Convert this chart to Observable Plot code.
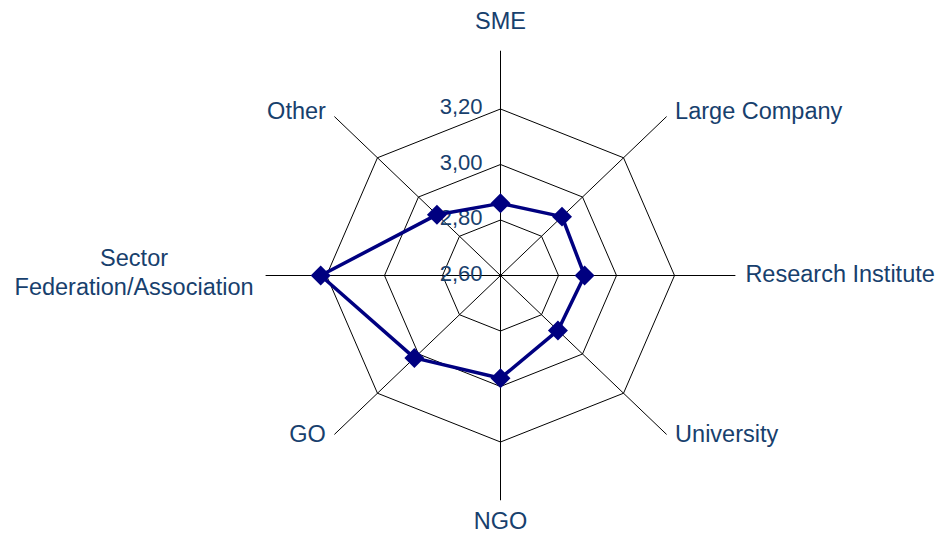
<!DOCTYPE html>
<html>
<head>
<meta charset="utf-8">
<script src="https://cdn.jsdelivr.net/npm/d3@7"></script>
<script src="https://cdn.jsdelivr.net/npm/@observablehq/plot@0.6"></script>
<style>
  html, body { margin: 0; padding: 0; background: #fff; }
  #chart svg { display: block; }
</style>
</head>
<body>
<div id="chart"></div>
<script>
// ---- data ----
const categories = ["SME", "Large Company", "Research Institute", "University", "NGO", "GO", "Sector\nFederation/Association", "Other"];
const values = [2.86, 2.90, 2.89, 2.88, 2.97, 3.02, 3.22, 2.91];
const ringValues = [2.8, 3.0, 3.2];
const tickValues = [2.6, 2.8, 3.0, 3.2];
const tickLabels = ["2,60", "2,80", "3,00", "3,20"];
const axisMin = 2.6;
const axisMax = 3.41;

// ---- layout ----
const W = 938, H = 533;
const cx = 500, cy = 275;           // centre in pixels
const pxPerUnitX = 290, pxPerUnitY = 277.5;
const textColor = "#17406D";
const font = "Liberation Sans, Arial, sans-serif";
const catSize = 23.5;

const n = categories.length;
const angle = i => (i / n) * 2 * Math.PI;
const polar = (i, v) => ({x: (v - axisMin) * Math.sin(angle(i)), y: (v - axisMin) * Math.cos(angle(i))});

// rings
const rings = ringValues.flatMap(v => d3.range(n + 1).map(i => ({ring: v, ...polar(i % n, v)})));
// spokes
const spokes = categories.map((c, i) => ({x1: 0, y1: 0, x2: polar(i, axisMax).x, y2: polar(i, axisMax).y}));
// data series
const series = d3.range(n + 1).map(i => ({cat: categories[i % n], value: values[i % n], ...polar(i % n, values[i % n])}));
const pts = series.slice(0, n);
// tick labels
const ticks = tickValues.map((v, k) => ({x: 0, y: v - axisMin, label: tickLabels[k]}));

// measure text width
const ctx = document.createElement("canvas").getContext("2d");
ctx.font = `${catSize}px ${font}`;
const widthOf = s => Math.max(...s.split("\n").map(l => ctx.measureText(l).width));

// category labels placed from spoke ends
const labels = categories.map((c, i) => {
  const p = polar(i, axisMax);
  const s = Math.sin(angle(i)), co = Math.cos(angle(i));
  let anchor = "middle", dx = 0, dy = -3;
  const multi = c.includes("\n");
  if (Math.abs(s) < 0.1) {
    dy = co > 0 ? -31 : 20;
  } else if (multi) {
    dx = Math.sign(s) * (widthOf(c) / 2 + 12);
    dy = -4;
  } else if (Math.abs(co) < 0.1) {
    anchor = s > 0 ? "start" : "end";
    dx = Math.sign(s) * 10;
    dy = -3;
  } else {
    anchor = s > 0 ? "start" : "end";
    dx = Math.sign(s) * 8.5;
    dy = co > 0 ? -6.5 : -1.5;
  }
  return {x: p.x, y: p.y, label: c, anchor, dx, dy};
});

const xDomain = [-cx / pxPerUnitX, (W - cx) / pxPerUnitX];
const yDomain = [-(H - cy) / pxPerUnitY, cy / pxPerUnitY];

const textMarks = labels.map(l => Plot.text([l], {
  x: "x", y: "y", text: "label", textAnchor: l.anchor, dx: l.dx, dy: l.dy,
  fill: textColor, fontSize: catSize, lineAnchor: "middle", lineHeight: 1.2
}));

const chart = Plot.plot({
  width: W, height: H, margin: 0,
  style: {background: "#fff", fontFamily: font},
  x: {domain: xDomain, range: [0, W], axis: null},
  y: {domain: yDomain, range: [H, 0], axis: null},
  marks: [
    Plot.link(spokes, {x1: "x1", y1: "y1", x2: "x2", y2: "y2", stroke: "#000", strokeWidth: 1}),
    Plot.line(rings, {x: "x", y: "y", z: "ring", stroke: "#000", strokeWidth: 1, curve: "linear"}),
    Plot.text(ticks, {x: "x", y: "y", text: "label", textAnchor: "end", dx: -18, dy: -2, fill: textColor, fontSize: 22}),
    Plot.line(series, {x: "x", y: "y", stroke: "#000080", strokeWidth: 3.5, curve: "linear"}),
    Plot.dot(pts, {x: "x", y: "y", symbol: "diamond2", r: 9, fill: "#000080", stroke: "none"}),
    ...textMarks
  ]
});
document.getElementById("chart").appendChild(chart);
</script>
</body>
</html>
